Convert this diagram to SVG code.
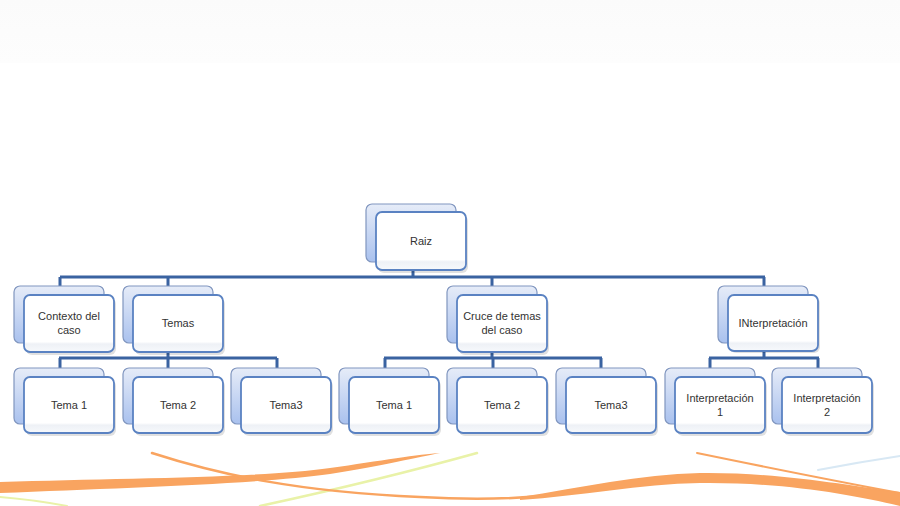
<svg xmlns="http://www.w3.org/2000/svg" width="900" height="506" viewBox="0 0 900 506">
<defs>
<linearGradient id="gBack" x1="0" y1="0" x2="0" y2="1">
<stop offset="0" stop-color="#e6ecf8"/>
<stop offset="1" stop-color="#a9c1ee"/>
</linearGradient>
<linearGradient id="gFront" x1="0" y1="0" x2="0" y2="1">
<stop offset="0" stop-color="#ffffff"/>
<stop offset="0.82" stop-color="#ffffff"/>
<stop offset="0.86" stop-color="#eef1f6"/>
<stop offset="1" stop-color="#f7f9fc"/>
</linearGradient>
<linearGradient id="gTop" x1="0" y1="0" x2="0" y2="1">
<stop offset="0" stop-color="#fbfbfb"/>
<stop offset="1" stop-color="#fdfdfd"/>
</linearGradient>
</defs>
<style>
.back{fill:url(#gBack);stroke:#8096bf;stroke-width:1.2}
.front{fill:url(#gFront);stroke:#5a82c2;stroke-width:1.8}
.sh{fill:#000;opacity:0.12}
.lbl{font-family:"Liberation Sans",Arial,sans-serif;font-size:11px;fill:#333;text-anchor:middle}
.con{stroke:#3a63a1;stroke-width:3;fill:none}
.wave{fill:none;stroke-linecap:round}
</style>
<rect x="0" y="0" width="900" height="506" fill="#ffffff"/>
<rect x="0" y="0" width="900" height="63" fill="url(#gTop)"/>
<g id="background-waves">
<path class="wave" d="M0,497 Q35,500 67,506" stroke="#e9f2a8" stroke-width="2"/>
<path class="wave" d="M260,506 Q380,480 477,453" stroke="#e9f2a8" stroke-width="2.5"/>
<path class="wave" d="M818,470 Q860,462 900,456" stroke="#d8e8f4" stroke-width="2"/>
<path d="M0,482 C120,478 260,478 330,468 C380,461 420,454 440,453 C420,457 380,466 330,474 C260,484 120,488 0,493 Z" fill="#f9a460"/>
<path class="wave" d="M152,453 C220,475 300,492 420,497 C470,500 520,499 560,494" stroke="#f9a460" stroke-width="2.5"/>
<path d="M520,497 C580,488 640,474 700,473 C780,472 850,486 900,492 L900,506 C850,494 780,482 700,483 C640,484 580,496 520,500 Z" fill="#f9a460"/>
<path class="wave" d="M697,453 C770,468 840,482 900,493" stroke="#f9a460" stroke-width="2"/>
</g>
<g id="connectors">
<path class="con" d="M413,270 V277 M60,277 H765 M60,277 V288 M168,277 V288 M492,277 V288 M764,277 V288"/>
<path class="con" d="M168,352 V358 M59,358 H277 M60,358 V369 M168,358 V369 M277,358 V369"/>
<path class="con" d="M492,352 V358 M384,358 H602 M385,358 V369 M493,358 V369 M601,358 V369"/>
<path class="con" d="M764,351 V358 M709,358 H819 M710,358 V369 M818,358 V369"/>
</g>
<g id="node-raiz">
<rect class="back" x="366" y="204" width="90" height="58" rx="6"/>
<rect class="sh" x="378" y="215" width="90" height="58" rx="6"/>
<rect class="front" x="376" y="212" width="90" height="58" rx="6"/>
<text class="lbl" x="421" y="245">Raiz</text>
</g>
<g id="node-contexto">
<rect class="back" x="14" y="286" width="90" height="57" rx="6"/>
<rect class="sh" x="26" y="298" width="90" height="57" rx="6"/>
<rect class="front" x="24" y="295" width="90" height="57" rx="6"/>
<text class="lbl" x="69" y="320">Contexto del</text>
<text class="lbl" x="69" y="334">caso</text>
</g>
<g id="node-temas">
<rect class="back" x="123" y="286" width="90" height="57" rx="6"/>
<rect class="sh" x="135" y="298" width="90" height="57" rx="6"/>
<rect class="front" x="133" y="295" width="90" height="57" rx="6"/>
<text class="lbl" x="178" y="327">Temas</text>
</g>
<g id="node-cruce">
<rect class="back" x="447" y="286" width="90" height="57" rx="6"/>
<rect class="sh" x="459" y="298" width="90" height="57" rx="6"/>
<rect class="front" x="457" y="295" width="90" height="57" rx="6"/>
<text class="lbl" x="502" y="320">Cruce de temas</text>
<text class="lbl" x="502" y="334">del caso</text>
</g>
<g id="node-interpretacion">
<rect class="back" x="718" y="286" width="90" height="57" rx="6"/>
<rect class="sh" x="730" y="297" width="90" height="56" rx="6"/>
<rect class="front" x="728" y="295" width="90" height="56" rx="6"/>
<text class="lbl" x="773" y="327">INterpretación</text>
</g>
<g id="node-tema1-a">
<rect class="back" x="14" y="368" width="90" height="56" rx="6"/>
<rect class="sh" x="26" y="380" width="90" height="56" rx="6"/>
<rect class="front" x="24" y="377" width="90" height="56" rx="6"/>
<text class="lbl" x="69" y="409">Tema 1</text>
</g>
<g id="node-tema2-a">
<rect class="back" x="123" y="368" width="90" height="56" rx="6"/>
<rect class="sh" x="135" y="380" width="90" height="56" rx="6"/>
<rect class="front" x="133" y="377" width="90" height="56" rx="6"/>
<text class="lbl" x="178" y="409">Tema 2</text>
</g>
<g id="node-tema3-a">
<rect class="back" x="231" y="368" width="90" height="56" rx="6"/>
<rect class="sh" x="243" y="380" width="90" height="56" rx="6"/>
<rect class="front" x="241" y="377" width="90" height="56" rx="6"/>
<text class="lbl" x="286" y="409">Tema3</text>
</g>
<g id="node-tema1-b">
<rect class="back" x="339" y="368" width="90" height="56" rx="6"/>
<rect class="sh" x="351" y="380" width="90" height="56" rx="6"/>
<rect class="front" x="349" y="377" width="90" height="56" rx="6"/>
<text class="lbl" x="394" y="409">Tema 1</text>
</g>
<g id="node-tema2-b">
<rect class="back" x="447" y="368" width="90" height="56" rx="6"/>
<rect class="sh" x="459" y="380" width="90" height="56" rx="6"/>
<rect class="front" x="457" y="377" width="90" height="56" rx="6"/>
<text class="lbl" x="502" y="409">Tema 2</text>
</g>
<g id="node-tema3-b">
<rect class="back" x="556" y="368" width="90" height="56" rx="6"/>
<rect class="sh" x="568" y="380" width="90" height="56" rx="6"/>
<rect class="front" x="566" y="377" width="90" height="56" rx="6"/>
<text class="lbl" x="611" y="409">Tema3</text>
</g>
<g id="node-interp1">
<rect class="back" x="665" y="368" width="90" height="56" rx="6"/>
<rect class="sh" x="677" y="380" width="90" height="56" rx="6"/>
<rect class="front" x="675" y="377" width="90" height="56" rx="6"/>
<text class="lbl" x="720" y="402">Interpretación</text>
<text class="lbl" x="720" y="416">1</text>
</g>
<g id="node-interp2">
<rect class="back" x="772" y="368" width="90" height="56" rx="6"/>
<rect class="sh" x="784" y="380" width="90" height="56" rx="6"/>
<rect class="front" x="782" y="377" width="90" height="56" rx="6"/>
<text class="lbl" x="827" y="402">Interpretación</text>
<text class="lbl" x="827" y="416">2</text>
</g>
</svg>
